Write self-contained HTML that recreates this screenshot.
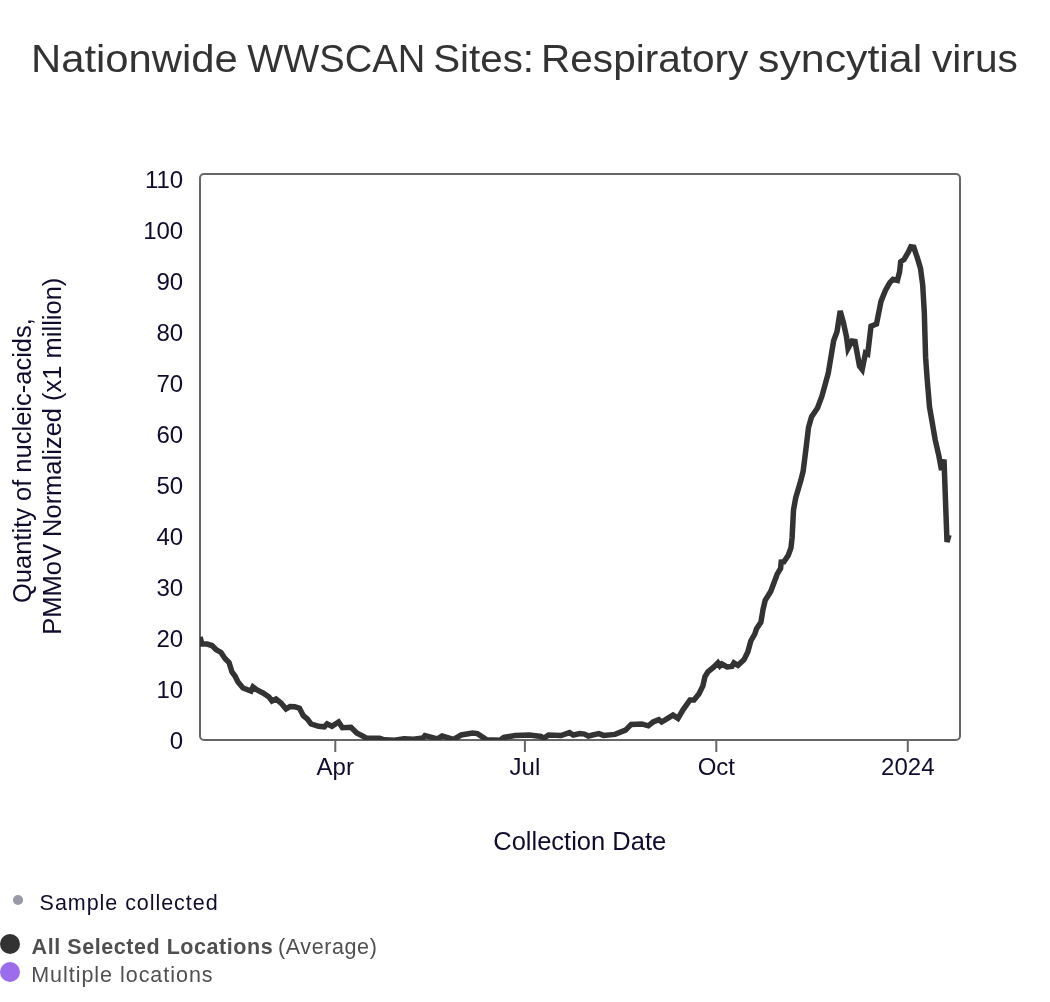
<!DOCTYPE html>
<html><head><meta charset="utf-8"><style>
html,body{margin:0;padding:0;background:#fff;width:1050px;height:1002px;overflow:hidden}
svg{position:absolute;left:0;top:0;display:block;will-change:transform}
text{font-family:"Liberation Sans",sans-serif}
</style></head><body>
<svg width="1050" height="1002" viewBox="0 0 1050 1002">
<g font-size="38" fill="#333333"><text x="31.00" y="72" textLength="206.80" lengthAdjust="spacingAndGlyphs">Nationwide</text><text x="247.20" y="72" textLength="178.00" lengthAdjust="spacingAndGlyphs">WWSCAN</text><text x="433.20" y="72" textLength="100.80" lengthAdjust="spacingAndGlyphs">Sites:</text><text x="541.00" y="72" textLength="207.40" lengthAdjust="spacingAndGlyphs">Respiratory</text><text x="758.00" y="72" textLength="164.20" lengthAdjust="spacingAndGlyphs">syncytial</text><text x="932.00" y="72" textLength="85.80" lengthAdjust="spacingAndGlyphs">virus</text></g>
<rect x="200" y="174" width="760" height="566" rx="4" ry="4" fill="none" stroke="#666666" stroke-width="2"/>
<g stroke="#666666" stroke-width="2"><line x1="335.3" y1="740" x2="335.3" y2="752"/><line x1="524.9" y1="740" x2="524.9" y2="752"/><line x1="716.3" y1="740" x2="716.3" y2="752"/><line x1="907.8" y1="740" x2="907.8" y2="752"/></g>
<g font-size="24" fill="#100c2e">
<text x="183.2" y="748.8" text-anchor="end">0</text>
<text x="183.2" y="697.8" text-anchor="end">10</text>
<text x="183.2" y="646.8" text-anchor="end">20</text>
<text x="183.2" y="595.8" text-anchor="end">30</text>
<text x="183.2" y="544.8" text-anchor="end">40</text>
<text x="183.2" y="493.8" text-anchor="end">50</text>
<text x="183.2" y="442.8" text-anchor="end">60</text>
<text x="183.2" y="391.8" text-anchor="end">70</text>
<text x="183.2" y="340.8" text-anchor="end">80</text>
<text x="183.2" y="289.8" text-anchor="end">90</text>
<text x="183.2" y="238.8" text-anchor="end">100</text>
<text x="183.2" y="187.8" text-anchor="end">110</text>

<text x="335.3" y="775" text-anchor="middle">Apr</text><text x="524.9" y="775" text-anchor="middle">Jul</text><text x="716.3" y="775" text-anchor="middle">Oct</text><text x="907.8" y="775" text-anchor="middle">2024</text>
</g>
<clipPath id="cp"><rect x="200" y="174" width="760" height="566"/></clipPath>
<path clip-path="url(#cp)" d="M200,637 L202,644 L207,644 L212,645.5 L216,649.5 L221,652.5 L225,658.5 L229,662.5 L232,672 L235,676 L238,682 L243,688 L251,691 L253,687 L257,690 L263,693 L269,697 L272,701 L276,699 L281,703 L286,709 L290,706.6 L294.8,706.8 L299.5,708.2 L303.3,715.8 L307.1,718.7 L311,723.9 L318.6,726.3 L324.3,726.8 L327.1,723.9 L331.9,726.3 L338.6,722 L342.4,727.7 L351,727.3 L356.7,733 L366.2,737.9 L379.5,738.3 L384.3,739.8 L394.5,740.2 L404,738.8 L413.6,739.3 L423.1,737.9 L425,735.5 L437.4,738.8 L442.1,736 L453.6,739.3 L461.2,735 L472.6,733.1 L477.4,733.6 L486.7,739.8 L500,740.2 L503.8,737.4 L515.2,735.5 L529.5,735 L541,736.4 L543.8,738.3 L548.6,735 L561,735.5 L569.5,732.6 L573.3,735 L580,733.6 L584.5,734.1 L588.3,736 L598.8,733.6 L603.6,735.4 L615,734.4 L625.5,730.1 L631.2,724.4 L641.7,723.9 L648.3,725.8 L653.1,722 L658.8,719.6 L661.7,722 L666.4,719.2 L673,715.1 L678,718.4 L683,709.8 L690,699.9 L694,699.9 L698.9,693.9 L702.9,685.9 L704.9,676.9 L707.9,671.9 L713.9,666.9 L717.9,662.9 L719.9,665.9 L721.9,663.9 L726.9,666.9 L731.9,666.4 L733.9,662.9 L737.9,665.4 L743.9,659.9 L747.8,652 L750.8,641 L754.8,634 L756.5,628.8 L760.9,622.2 L763.1,609 L765.2,600.3 L770.7,591.5 L774,582.7 L777.3,573.9 L780.6,568.4 L781.2,562 L783.9,561.8 L788.3,555.2 L791,547.6 L792.1,537.7 L793.5,509.9 L795.7,497.9 L801,479.9 L803.2,470.9 L806.2,446.9 L808.5,427.5 L811.5,417 L817.5,408 L822,396 L828.2,373.4 L833.7,340.5 L837,331.7 L840.2,311 L843.5,322.9 L846.5,337 L848,348.5 L852,341 L855,341.5 L859.5,366 L862.2,369.5 L865.5,353 L867.7,354 L871,326.2 L876.5,324 L881,301.4 L885.4,290.4 L889.8,282.7 L893,279.4 L897.4,280.5 L899.6,271.7 L900.7,261.8 L904,259.6 L908.4,252 L910.8,246.8 L913.8,247.3 L917.2,257.4 L920.5,268.4 L922.7,284.9 L924.3,312.3 L925.6,357.4 L927.2,379.4 L929.5,406.8 L935.2,439.8 L939,456.5 L941.5,470 L944,459.5 L947,542 L949,535" fill="none" stroke="#333333" stroke-width="5.5" stroke-linejoin="miter" stroke-miterlimit="4"/>
<g font-size="25.5" fill="#100c2e">
<text x="579.7" y="850" text-anchor="middle">Collection Date</text>
<text transform="translate(30.9,460.6) rotate(-90)" text-anchor="middle">Quantity of nucleic-acids,</text>
<text transform="translate(60.9,456.2) rotate(-90)" text-anchor="middle">PMMoV Normalized (x1 million)</text>
</g>
<circle cx="18" cy="900" r="5.1" fill="#979ba7"/>
<text x="39.60" y="909.7" font-size="21.5" fill="#100c2e" textLength="178.00" lengthAdjust="spacing">Sample collected</text>
<circle cx="10" cy="944" r="10" fill="#333333"/>
<text x="31.60" y="954" font-size="21.5" font-weight="bold" fill="#4f4f4f" textLength="241.00" lengthAdjust="spacing">All Selected Locations</text>
<text x="278.00" y="954" font-size="21.5" fill="#4f4f4f" textLength="98.80" lengthAdjust="spacing">(Average)</text>
<circle cx="10" cy="972" r="10" fill="#9b6ceb"/>
<text x="31.20" y="981.8" font-size="21.5" fill="#4f4f4f" textLength="181.40" lengthAdjust="spacing">Multiple locations</text>
</svg>
</body></html>
